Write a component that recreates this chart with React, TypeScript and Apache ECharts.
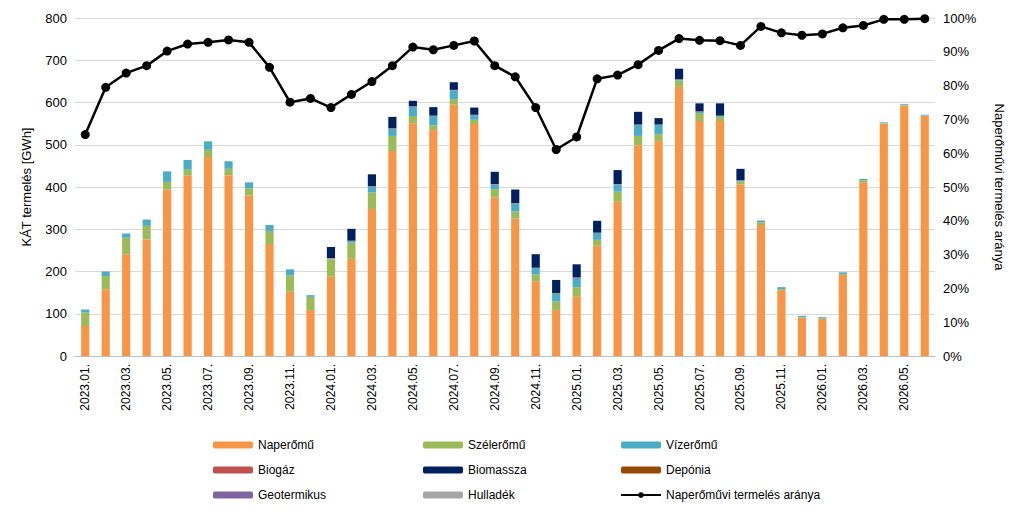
import React, { useEffect, useRef } from "react";
import * as echarts from "echarts";

const months = [
  "2023.01.", "2023.02.", "2023.03.", "2023.04.", "2023.05.", "2023.06.", "2023.07.", "2023.08.", "2023.09.", "2023.10.", "2023.11.", "2023.12.",
  "2024.01.", "2024.02.", "2024.03.", "2024.04.", "2024.05.", "2024.06.", "2024.07.", "2024.08.", "2024.09.", "2024.10.", "2024.11.", "2024.12.",
  "2025.01.", "2025.02.", "2025.03.", "2025.04.", "2025.05.", "2025.06.", "2025.07.", "2025.08.", "2025.09.", "2025.10.", "2025.11.", "2025.12.",
  "2026.01.", "2026.02.", "2026.03.", "2026.04.", "2026.05.", "2026.06.",
];
const solar = [71, 158, 241, 276, 394, 427, 471, 428, 380, 265, 152, 109, 188, 230, 348, 485, 551, 535, 595, 549, 375, 325, 177, 109, 140, 261, 365, 499, 509, 637, 556, 556, 406, 310, 156, 91, 88, 192, 411, 550, 593, 568];
const wind = [32, 31, 39, 32, 18, 14, 17, 15, 17, 31, 39, 31, 41, 38, 39, 36, 17, 11, 13, 10, 20, 17, 16, 20, 23, 14, 24, 22, 16, 15, 19, 10, 7, 6, 2, 1, 1, 2, 5, 1, 1, 1];
const hydro = [7, 11, 10, 15, 25, 23, 20, 18, 14, 14, 14, 4, 2, 4, 14, 17, 22, 22, 21, 11, 11, 19, 15, 19, 22, 16, 17, 26, 22, 2, 3, 2, 2, 3, 5, 3, 3, 4, 3, 2, 2, 2];
const biogas = [0, 0, 0, 0, 0, 0, 0, 0, 0, 0, 0, 0, 1, 1, 1, 1, 1, 1, 1, 1, 1, 1, 1, 1, 1, 1, 1, 1, 1, 1, 1, 1, 1, 0, 0, 0, 0, 0, 0, 0, 0, 0];
const biomass = [0, 0, 0, 0, 0, 0, 0, 0, 0, 0, 0, 0, 26, 28, 28, 27, 13, 20, 18, 17, 29, 32, 32, 31, 31, 28, 33, 30, 15, 25, 19, 29, 27, 1, 0, 0, 0, 0, 0, 0, 0, 0];
const landfill = [0, 0, 0, 0, 0, 0, 0, 0, 0, 0, 0, 0, 0, 0, 0, 0, 0, 0, 0, 0, 0, 0, 0, 0, 0, 0, 0, 0, 0, 0, 0, 0, 0, 0, 0, 0, 0, 0, 0, 0, 0, 0];
const geothermal = [0, 0, 0, 0, 0, 0, 0, 0, 0, 0, 0, 0, 0, 0, 0, 0, 0, 0, 0, 0, 0, 0, 0, 0, 0, 0, 0, 0, 0, 0, 0, 0, 0, 0, 0, 0, 0, 0, 0, 0, 0, 0];
const waste = [0, 0, 0, 0, 0, 0, 0, 0, 0, 0, 0, 0, 0, 0, 0, 0, 0, 0, 0, 0, 0, 0, 0, 0, 0, 0, 0, 0, 0, 0, 0, 0, 0, 0, 0, 0, 0, 0, 0, 0, 0, 0];
const solarShare = [65.5, 79.5, 83.7, 85.9, 90.2, 92.3, 92.8, 93.5, 92.8, 85.4, 75.1, 76.2, 73.5, 77.4, 81.2, 85.9, 91.4, 90.6, 91.9, 93.2, 85.9, 82.6, 73.5, 61.1, 64.8, 82.0, 83.1, 86.2, 90.4, 93.9, 93.4, 93.3, 91.9, 97.5, 95.6, 94.9, 95.3, 97.1, 97.8, 99.6, 99.6, 99.8];

const font = "Liberation Sans";

const App = () => {
  const chartRef = useRef(null);

  useEffect(() => {
    const myChart = echarts.init(chartRef.current, null, { renderer: "svg" });

    const bar = (name, data, color) => ({
      name,
      type: "bar",
      stack: "kat",
      barWidth: "40%",
      data,
      itemStyle: { color },
    });

    const legendBase = {
      orient: "vertical",
      top: 426,
      height: 90,
      itemGap: 13,
      itemWidth: 40,
      itemHeight: 7,
      textStyle: { fontFamily: font, fontSize: 12, color: "#000" },
    };

    const option = {
      animation: false,
      textStyle: { fontFamily: font },
      grid: { left: 67, right: 81, top: 10, bottom: 153 },
      legend: [
        { ...legendBase, left: 200, data: ["Naperőmű", "Biogáz", "Geotermikus"] },
        { ...legendBase, left: 410, data: ["Szélerőmű", "Biomassza", "Hulladék"] },
        { ...legendBase, left: 607, data: ["Vízerőmű", "Depónia", "Naperőművi termelés aránya"] },
      ],
      xAxis: {
        type: "category",
        data: months,
        axisLine: { lineStyle: { color: "#BFBFBF" } },
        axisTick: { interval: 1, lineStyle: { color: "#BFBFBF" } },
        axisLabel: { rotate: 90, interval: 1, color: "#000", fontSize: 12, fontFamily: font },
      },
      yAxis: [
        {
          type: "value",
          min: 0,
          max: 800,
          interval: 100,
          name: "KÁT termelés [GWh]",
          nameLocation: "middle",
          nameGap: 42,
          nameTextStyle: { color: "#000", fontSize: 13, fontFamily: font },
          axisLabel: { color: "#000", fontSize: 13, fontFamily: font },
          splitLine: { lineStyle: { color: "#D9D9D9" } },
        },
        {
          type: "value",
          min: 0,
          max: 100,
          interval: 10,
          name: "Naperőművi termelés aránya",
          nameLocation: "middle",
          nameGap: 58,
          nameRotate: -90,
          nameTextStyle: { color: "#000", fontSize: 13, fontFamily: font },
          axisLabel: { formatter: "{value}%", color: "#000", fontSize: 13, fontFamily: font },
          splitLine: { show: false },
        },
      ],
      series: [
        bar("Naperőmű", solar, "#F79646"),
        bar("Szélerőmű", wind, "#9BBB59"),
        bar("Vízerőmű", hydro, "#4BACC6"),
        bar("Biogáz", biogas, "#C0504D"),
        bar("Biomassza", biomass, "#002060"),
        bar("Depónia", landfill, "#974706"),
        bar("Geotermikus", geothermal, "#8064A2"),
        bar("Hulladék", waste, "#A5A5A5"),
        {
          name: "Naperőművi termelés aránya",
          type: "line",
          yAxisIndex: 1,
          data: solarShare,
          symbol: "circle",
          symbolSize: 9,
          lineStyle: { color: "#000", width: 2.5 },
          itemStyle: { color: "#000" },
        },
      ],
    };

    myChart.setOption(option);
    return () => {
      myChart.dispose();
    };
  }, []);

  return <div ref={chartRef} style={{ width: "1008px", height: "501px" }}></div>;
};

export default App;
